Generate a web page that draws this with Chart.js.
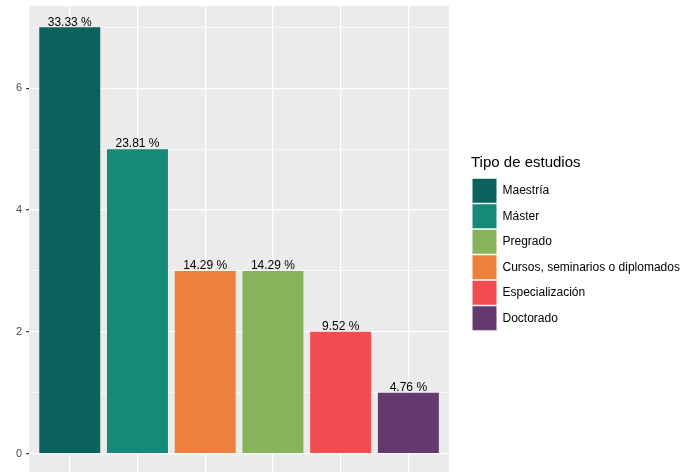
<!DOCTYPE html>
<html>
<head>
<meta charset="utf-8">
<script src="https://cdn.jsdelivr.net/npm/chart.js@4/dist/chart.umd.min.js"></script>
<style>
  html, body { margin: 0; padding: 0; background: #fff; overflow: hidden; }
  #wrap { width: 683px; height: 482px; }
</style>
</head>
<body>
<div id="wrap"><canvas id="studiesChart"></canvas></div>
<script>
"use strict";

// bar order as drawn
const categories = ["Maestría", "Máster", "Cursos, seminarios o diplomados", "Pregrado", "Especialización", "Doctorado"];
const counts = [7, 5, 3, 3, 2, 1];
const percentLabels = ["33.33 %", "23.81 %", "14.29 %", "14.29 %", "9.52 %", "4.76 %"];
const barColors = ["#0A615D", "#148A77", "#EE7F3C", "#87B35B", "#F14D50", "#643A6E"];
// legend order differs from bar order
const legendOrder = ["Maestría", "Máster", "Pregrado", "Cursos, seminarios o diplomados", "Especialización", "Doctorado"];
const yTicks = [0, 2, 4, 6];

const FONT = "'Liberation Sans', Arial, sans-serif";

// grey ggplot panel
const panelBg = {
  id: "panelBg",
  beforeDraw(chart) {
    const { ctx, chartArea: a } = chart;
    ctx.save();
    ctx.fillStyle = "#EBEBEB";
    ctx.fillRect(a.left, a.top, a.right - a.left, a.bottom - a.top);
    ctx.restore();
  },
};

// percentage text on top of each bar
const barLabels = {
  id: "barLabels",
  afterDatasetsDraw(chart) {
    const { ctx } = chart;
    const meta = chart.getDatasetMeta(0);
    ctx.save();
    ctx.font = "12px " + FONT;
    ctx.fillStyle = "#000";
    ctx.textAlign = "center";
    ctx.textBaseline = "bottom";
    meta.data.forEach((bar, i) => {
      ctx.fillText(percentLabels[i], bar.x, bar.y + 1);
    });
    ctx.restore();
  },
};

const ctx = document.getElementById("studiesChart").getContext("2d");

new Chart(ctx, {
  type: "bar",
  data: {
    datasets: [
      {
        label: "Tipo de estudios",
        data: counts.map((v, i) => ({ x: i, y: v })),
        backgroundColor: barColors,
        borderWidth: 0,
        categoryPercentage: 0.9,
        barPercentage: 1,
      },
    ],
  },
  options: {
    responsive: true,
    maintainAspectRatio: false,
    animation: false,
    layout: { padding: { top: 6, left: 12, right: 0, bottom: 7 } },
    scales: {
      x: {
        type: "linear",
        offset: false,
        min: -0.6,
        max: categories.length - 0.4,
        afterBuildTicks(scale) {
          scale.ticks = categories.map((c, i) => ({ value: i }));
        },
        afterFit(scale) {
          scale.height = 0;
        },
        ticks: { display: false },
        border: { display: false },
        grid: { color: "#FFFFFF", lineWidth: 1.2, drawTicks: false, offset: false },
      },
      y: {
        min: -0.35,
        max: 7.35,
        afterBuildTicks(scale) {
          scale.ticks = [0, 1, 2, 3, 4, 5, 6, 7].map((v) => ({ value: v }));
        },
        afterFit(scale) {
          scale.paddingTop = 0;
          scale.paddingBottom = 0;
        },
        ticks: {
          color: "#4D4D4D",
          font: { family: FONT, size: 11 },
          padding: 4,
          callback: (v) => (yTicks.includes(v) ? String(v) : ""),
        },
        border: { display: false },
        grid: {
          color: "#FFFFFF",
          lineWidth: (c) => (yTicks.includes(c.tick.value) ? 1.2 : 0.6),
          tickColor: (c) => (yTicks.includes(c.tick.value) ? "#333333" : "rgba(0,0,0,0)"),
          tickLength: 3,
        },
      },
      // empty axis, only keeps a gap between the panel and the legend
      gap: {
        position: "right",
        display: true,
        ticks: { display: false },
        grid: { display: false },
        border: { display: false },
        afterFit(scale) {
          scale.width = 22;
        },
      },
    },
    plugins: {
      tooltip: { enabled: false },
      legend: {
        position: "right",
        align: "center",
        maxWidth: 212,
        title: {
          display: true,
          text: "Tipo de estudios",
          position: "start",
          color: "#000",
          font: { family: FONT, size: 15 },
          padding: { top: 6, bottom: 4 },
        },
        labels: {
          color: "#000",
          font: { family: FONT, size: 12 },
          boxWidth: 24,
          boxHeight: 24,
          padding: 1.5,
          generateLabels() {
            return legendOrder.map((name) => {
              const idx = categories.indexOf(name);
              return {
                text: name,
                fillStyle: barColors[idx],
                strokeStyle: barColors[idx],
                lineWidth: 0,
                hidden: false,
                index: idx,
                datasetIndex: 0,
              };
            });
          },
        },
      },
    },
  },
  plugins: [panelBg, barLabels],
});
</script>
</body>
</html>
